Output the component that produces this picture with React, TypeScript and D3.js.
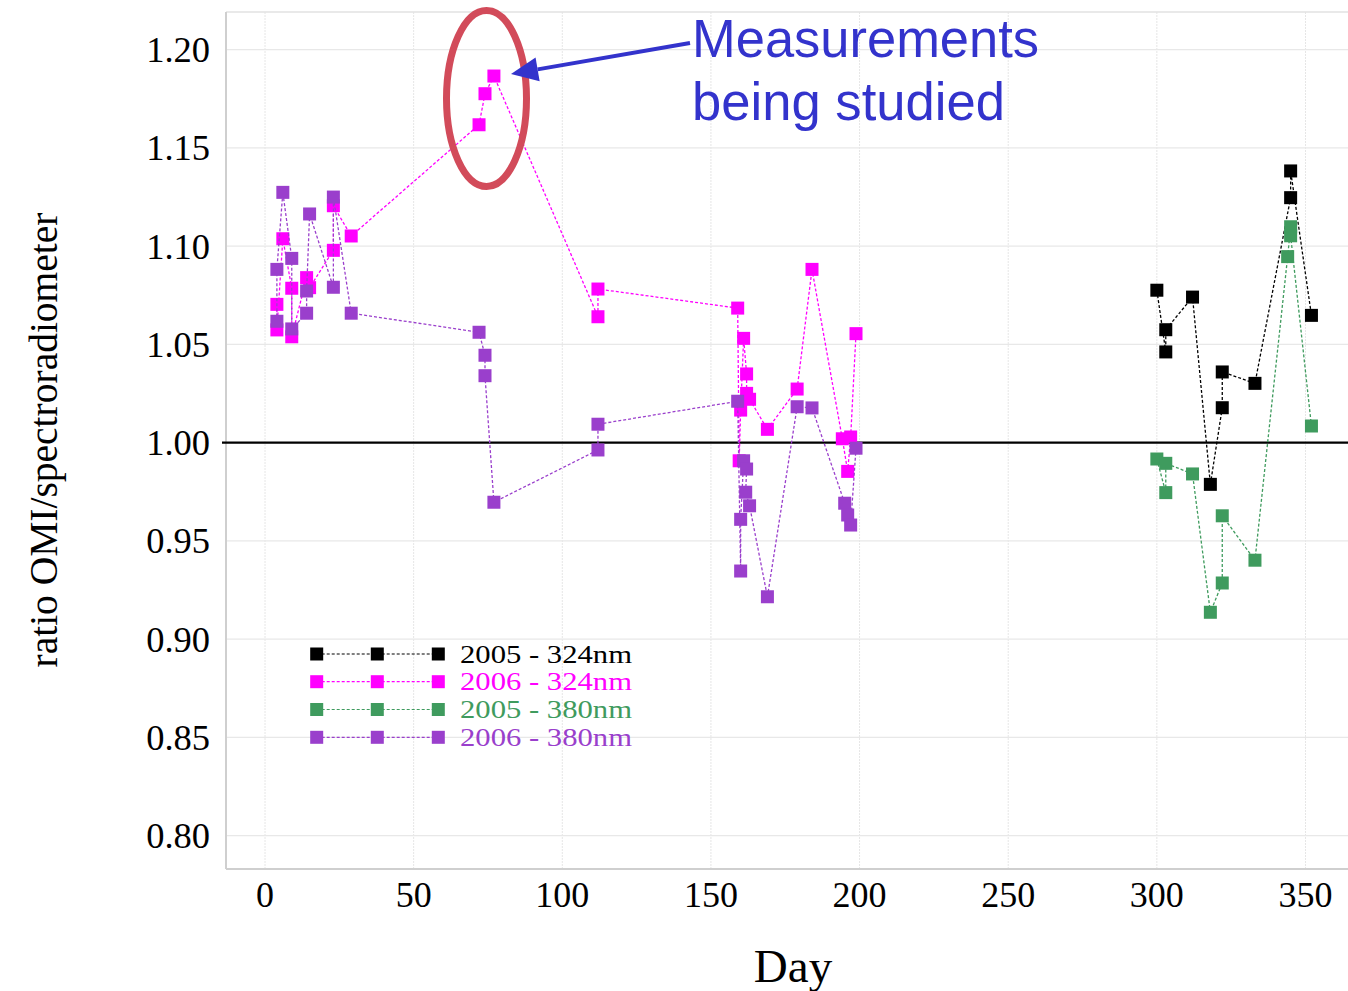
import React from "react";
import * as d3 from "d3";

// ---- data ----
const xTicks = [0, 50, 100, 150, 200, 250, 300, 350];
const yTicks = [0.8, 0.85, 0.9, 0.95, 1.0, 1.05, 1.1, 1.15, 1.2];

const days2005_324 = [300, 303, 303, 312, 318, 322, 322, 333, 345, 345, 352];
const ratio2005_324 = [1.0776, 1.0462, 1.0575, 1.0741, 0.9788, 1.0178, 1.036, 1.0302, 1.1247, 1.1383, 1.0648];

const days2005_380 = [300, 303, 303, 312, 318, 322, 322, 333, 344, 345, 345, 352];
const ratio2005_380 = [0.9917, 0.9746, 0.9895, 0.9841, 0.9137, 0.9286, 0.9628, 0.9402, 1.0947, 1.1099, 1.1053, 1.0085];

const days2006_324 = [4, 4, 6, 9, 9, 14, 15, 23, 23, 29, 72, 74, 77, 112, 112,
  159, 159.5, 160, 161, 162, 162, 163, 169, 179, 184, 194.2, 196, 197, 198.8];
const ratio2006_324 = [1.0704, 1.0574, 1.1038, 1.0786, 1.0539, 1.084, 1.0789, 1.0979, 1.1206, 1.1052,
  1.1618, 1.1776, 1.1866, 1.0641, 1.0782,
  1.0685, 0.9908, 1.0166, 1.0531, 1.035, 1.0251, 1.0221, 1.0068, 1.0273, 1.0882, 1.002, 0.9854, 1.0029, 1.0555];

const days2006_380 = [4, 4, 6, 9, 9, 14, 14, 15, 23, 23, 29, 72, 74, 74, 77, 112, 112,
  159, 160, 160, 161, 162, 161.7, 163, 169, 179, 184, 195, 196, 197, 198.8];
const ratio2006_380 = [1.0618, 1.0882, 1.1274, 1.0938, 1.0579, 1.0659, 1.0772, 1.1164, 1.0791, 1.125, 1.0659,
  1.0562, 1.0445, 1.0341, 0.9697, 0.9963, 1.0094,
  1.0211, 0.9347, 0.961, 0.9908, 0.9866, 0.9748, 0.9679, 0.9216, 1.0183, 1.0177, 0.9692, 0.9632, 0.9581, 0.9972];

const seriesNames = ["2005 - 324nm", "2006 - 324nm", "2005 - 380nm", "2006 - 380nm"];
const seriesColors = ["#000000", "#ff00ff", "#3f9b5e", "#9a3fcc"];
const seriesDays = [days2005_324, days2006_324, days2005_380, days2006_380];
const seriesRatios = [ratio2005_324, ratio2006_324, ratio2005_380, ratio2006_380];

// ---- layout ----
const W = 1348, H = 991;
const frame = { left: 226, top: 12, right: 1349, bottom: 869 };
const x = d3.scaleLinear().domain([0, 350]).range([265, 1305.5]);
const y = d3.scaleLinear().domain([0.8, 1.2]).range([835.7, 49.7]);
const serif = "'Liberation Serif', 'Times New Roman', serif";
const sans = "'Liberation Sans', Arial, sans-serif";
const MS = 13;

export default function App() {
  const line = d3.line<[number, number]>().x(d => x(d[0])).y(d => y(d[1]));
  const legendRows = [654, 681.7, 709.5, 737.3];
  const legendX = [316.7, 377.3, 438.3];
  const blue = "#3333cc";
  // arrow geometry
  const tip = [511, 74], tail = [690, 43];
  const dx = tail[0] - tip[0], dy = tail[1] - tip[1];
  const len = Math.hypot(dx, dy);
  const ux = dx / len, uy = dy / len;
  const bx = tip[0] + ux * 27, by = tip[1] + uy * 27;
  const px = -uy, py = ux;
  return (
    <svg width={W} height={H} style={{ position: "absolute", left: 0, top: 0, background: "#fff" }}>
      {/* gridlines */}
      {xTicks.map(t => (
        <line key={"gx" + t} x1={x(t)} x2={x(t)} y1={frame.top} y2={frame.bottom} stroke="#e6e6e6" strokeWidth={1} strokeDasharray="2,1" />
      ))}
      {yTicks.map(t => (
        <line key={"gy" + t} x1={frame.left} x2={frame.right} y1={y(t)} y2={y(t)} stroke="#e8e8e8" strokeWidth={1.2} />
      ))}
      {/* frame */}
      <line x1={frame.left} x2={frame.right} y1={frame.top} y2={frame.top} stroke="#e2e2e2" strokeWidth={1.5} />
      <line x1={frame.left} x2={frame.left} y1={frame.top} y2={frame.bottom} stroke="#cfcfcf" strokeWidth={2} />
      <line x1={frame.left} x2={frame.right} y1={frame.bottom} y2={frame.bottom} stroke="#cfcfcf" strokeWidth={2} />
      {/* reference line at 1.00 */}
      <line x1={222} x2={frame.right} y1={y(1.0)} y2={y(1.0)} stroke="#000" strokeWidth={2.2} />

      {/* series */}
      {seriesNames.map((name, i) => {
        const pts = seriesDays[i].map((d, j) => [d, seriesRatios[i][j]] as [number, number]);
        return (
          <g key={name}>
            <path d={line(pts) || ""} fill="none" stroke={seriesColors[i]} strokeWidth={1.3} strokeDasharray="3,2" />
            {pts.map((p, j) => (
              <rect key={j} x={x(p[0]) - MS / 2} y={y(p[1]) - MS / 2} width={MS} height={MS} fill={seriesColors[i]} />
            ))}
          </g>
        );
      })}

      {/* axes labels */}
      {yTicks.map(t => (
        <text key={"ty" + t} x={210} y={y(t) + 12.5} textAnchor="end" fontFamily={serif} fontSize={36.5} fill="#000">
          {t.toFixed(2)}
        </text>
      ))}
      {xTicks.map(t => (
        <text key={"tx" + t} x={x(t)} y={907} textAnchor="middle" fontFamily={serif} fontSize={36} fill="#000">
          {t}
        </text>
      ))}
      <text x={793} y={982} textAnchor="middle" fontFamily={serif} fontSize={47} fill="#000">Day</text>
      <text transform="translate(57,440) rotate(-90)" textAnchor="middle" fontFamily={serif} fontSize={39}
        textLength={455} lengthAdjust="spacingAndGlyphs" fill="#000">
        ratio OMI/spectroradiometer
      </text>

      {/* legend */}
      {seriesNames.map((name, i) => (
        <g key={"lg" + name}>
          <line x1={legendX[0]} x2={legendX[2]} y1={legendRows[i]} y2={legendRows[i]} stroke={seriesColors[i]} strokeWidth={1.2} strokeDasharray="3,2" />
          {legendX.map((lx, k) => (
            <rect key={k} x={lx - MS / 2} y={legendRows[i] - MS / 2} width={MS} height={MS} fill={seriesColors[i]} />
          ))}
          <text x={460} y={legendRows[i] + 8.5} fontFamily={serif} fontSize={26} fill={seriesColors[i]}
            textLength={172} lengthAdjust="spacingAndGlyphs">
            {name}
          </text>
        </g>
      ))}

      {/* annotation */}
      <ellipse cx={486.5} cy={98.5} rx={40} ry={88} fill="none" stroke="#d24b5a" strokeWidth={7} />
      <line x1={tail[0]} y1={tail[1]} x2={bx} y2={by} stroke={blue} strokeWidth={4} />
      <polygon points={`${tip[0]},${tip[1]} ${bx + px * 12},${by + py * 12} ${bx - px * 12},${by - py * 12}`} fill={blue} />
      <text x={692} y={57} fontFamily={sans} fontSize={53} fill={blue} textLength={347} lengthAdjust="spacingAndGlyphs">Measurements</text>
      <text x={692} y={120} fontFamily={sans} fontSize={53} fill={blue} textLength={313} lengthAdjust="spacingAndGlyphs">being studied</text>
    </svg>
  );
}
